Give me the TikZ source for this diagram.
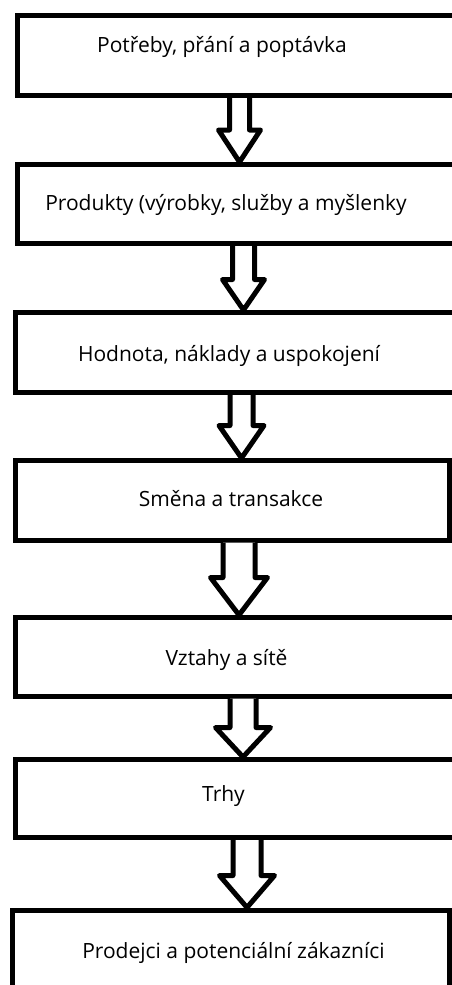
\documentclass[tikz,border=0pt]{standalone}
\usepackage{fontspec}
\setmainfont{Open Sans}
\usetikzlibrary{calc}

\tikzset{every picture/.style={line width=0.75pt}}
\tikzset{
  box/.style={draw, line width=5pt, inner sep=0pt, outer sep=2.5pt},
  lbl/.style={anchor=base, inner sep=0pt, font=\fontsize{21}{25}\selectfont},
  % hollow block arrow: shaft half width, head half width, head length
  hollow/.style n args={3}{draw, fill=white, line width=5pt, line join=round, to path={
    ($(\tikztostart)+(-#1,0)$) -- ($(\tikztostart |- \tikztotarget.north)+(-#1,-#3)$)
    -- ($(\tikztostart |- \tikztotarget.north)+(-#2,-#3)$) -- (\tikztostart |- \tikztotarget.north)
    -- ($(\tikztostart |- \tikztotarget.north)+(#2,-#3)$) -- ($(\tikztostart |- \tikztotarget.north)+(#1,-#3)$)
    -- ($(\tikztostart)+(#1,0)$)}}
}

\begin{document}
\begin{tikzpicture}[x=1pt,y=1pt,yscale=-1,xscale=1]
\useasboundingbox (0,0) rectangle (451,985);
\fill[white] (0,0) rectangle (451,985);

%Boxes
\node[box, minimum width=442.5, minimum height=80] (b1) at (238.75,55.5) {};
\node[box, minimum width=442.5, minimum height=79] (b2) at (238.75,204) {};
\node[box, minimum width=444.5, minimum height=80] (b3) at (237.75,352.5) {};
\node[box, minimum width=434, minimum height=79.5] (b4) at (232,500.25) {};
\node[box, minimum width=444.5, minimum height=78.5] (b5) at (237.75,656.75) {};
\node[box, minimum width=444.5, minimum height=78] (b6) at (237.75,798.5) {};
\node[box, minimum width=436.5, minimum height=90] (b7) at (230.75,955) {};

% Text Nodes
\node[lbl] (t1) at (222,52) {Potřeby, přání a poptávka};
\node[lbl] (t2) at (226,210.5) {Produkty (výrobky, služby a myšlenky};
\node[lbl] (t3) at (229,361.5) {Hodnota, náklady a uspokojení};
\node[lbl] (t4) at (231,506) {Směna a transakce};
\node[lbl] (t5) at (226.5,665) {Vztahy a sítě};
\node[lbl] (t6) at (223.5,801.5) {Trhy};
\node[lbl] (t7) at (233.5,958) {Prodejci a potenciální zákazníci};

%Arrows
\draw[hollow={10}{21}{32}] ([xshift=0.75]b1.south) to (b2);
\draw[hollow={11}{21}{30.5}] ([xshift=4.75]b2.south) to (b3);
\draw[hollow={11.5}{22.5}{32.5}] ([xshift=3.75]b3.south) to (b4);
\draw[hollow={16}{28.5}{37.5}] ([xshift=7]b4.south) to (b5);
\draw[hollow={13}{27.5}{29.5}] ([xshift=5.25]b5.south) to (b6);
\draw[hollow={14}{27.5}{32}] ([xshift=9.25]b6.south) to (b7);

\end{tikzpicture}
\end{document}
